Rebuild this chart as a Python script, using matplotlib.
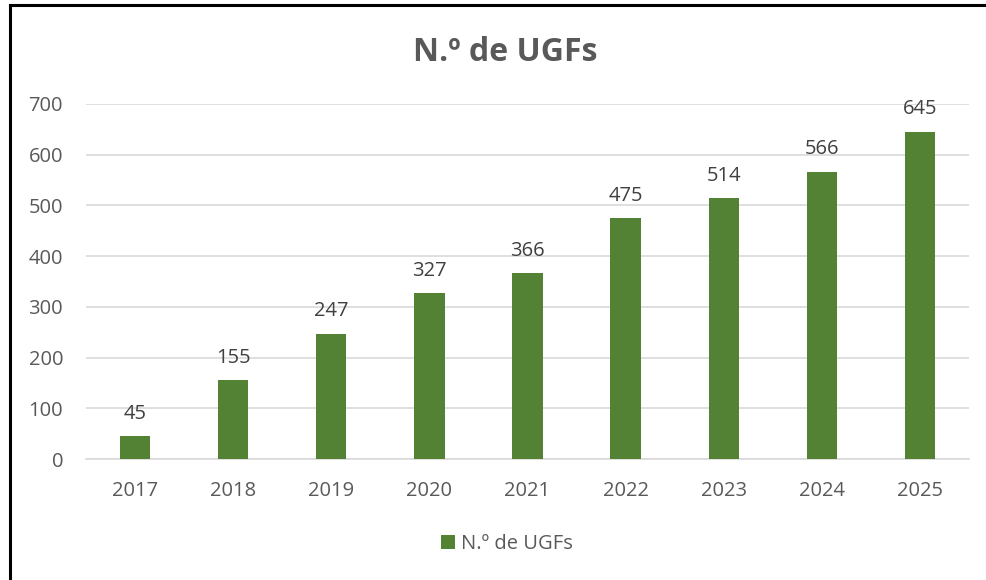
import matplotlib.pyplot as plt
import numpy as np

years = ['2017', '2018', '2019', '2020', '2021', '2022', '2023', '2024', '2025']
ugfs = [45, 155, 247, 327, 366, 475, 514, 566, 645]
yticks = [0, 100, 200, 300, 400, 500, 600, 700]

bar_color = '#548235'
text_color = '#595959'

plt.rcParams['font.family'] = ['Open Sans', 'DejaVu Sans']

fig = plt.figure(figsize=(9.86, 5.8), dpi=100)
ax = fig.add_axes([0.0872, 0.2086, 0.8956, 0.6121])

x = np.arange(len(years))
bars = ax.bar(x, ugfs, width=0.31, color=bar_color, label='N.º de UGFs', zorder=3)
for xi, v in zip(x, ugfs):
    ax.annotate(str(v), (xi, v), xytext=(0, 9), textcoords='offset points',
                ha='center', va='bottom', fontsize=14.5, color='#404040')

ax.set_xlim(-0.5, len(years) - 0.5)
ax.set_ylim(0, 700)
ax.set_yticks(yticks)
ax.set_xticks(x)
ax.set_xticklabels(years)
ax.tick_params(axis='both', length=0, labelsize=14.5, labelcolor=text_color)
ax.tick_params(axis='y', pad=16.5)
ax.tick_params(axis='x', pad=16)
ax.grid(axis='y', color='#d9d9d9', linewidth=1.2, zorder=0)
for side in ['top', 'right', 'left']:
    ax.spines[side].set_visible(False)
ax.spines['bottom'].set_color('#d9d9d9')
ax.spines['bottom'].set_linewidth(1.2)

fig.text(0.512, 0.91, 'N.º de UGFs', ha='center', va='center',
         fontsize=23, fontweight='bold', color=text_color)

fig.legend(handles=[bars], loc='center', bbox_to_anchor=(0.514, 0.062),
           frameon=False, fontsize=14.5, labelcolor=text_color,
           handlelength=0.7, handleheight=0.7, handletextpad=0.3)

# chart frame (left and top edges visible)
fig.add_artist(plt.Line2D([0.0101, 0.0101], [0.0, 0.9914], color='black', linewidth=2.2,
                          transform=fig.transFigure))
fig.add_artist(plt.Line2D([0.0101, 1.0], [0.9914, 0.9914], color='black', linewidth=2.2,
                          transform=fig.transFigure))

fig.savefig('out.png', dpi=100)
